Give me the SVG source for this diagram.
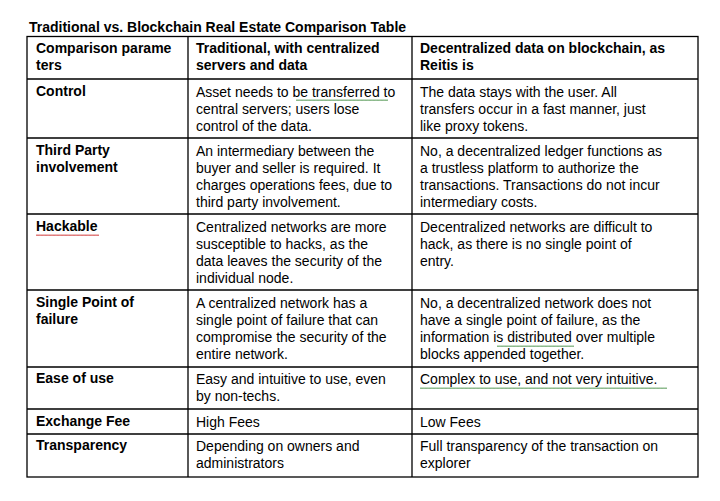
<svg xmlns="http://www.w3.org/2000/svg" width="720" height="501" viewBox="0 0 720 501">
<style>
text{font-family:"Liberation Sans",Arial,sans-serif;font-size:14px;fill:#000}
.b{font-weight:bold}
.g{fill:none;stroke:#000;stroke-width:1.3}
.w{fill:url(#wv)}
.wr{fill:url(#wr)}
</style>
<defs>
<pattern id="wv" width="4" height="3" patternUnits="userSpaceOnUse"><path d="M0,2 L1,0.5 L2,2 L3,0.5 L4,2" fill="none" stroke="#5a9a5a" stroke-width="0.8"/></pattern>
<pattern id="wr" width="4" height="3" patternUnits="userSpaceOnUse"><path d="M0,2 L1,0.5 L2,2 L3,0.5 L4,2" fill="none" stroke="#d04040" stroke-width="0.8"/></pattern>
</defs>
<rect width="720" height="501" fill="#fff"/>
<text class="b" x="29" y="32">Traditional vs. Blockchain Real Estate Comparison Table</text>
<g id="grid" class="g">
<rect x="27" y="36.5" width="671" height="440.5"/>
<path d="M188,36.5V477M412,36.5V477M27,79H698M27,138H698M27,214H698M27,290H698M27,367H698M27,409H698M27,434H698"/>
</g>
<g id="header" class="b">
<text class="b" x="36" y="53">Comparison parame</text><text class="b" x="36" y="70">ters</text>
<text class="b" x="196" y="53">Traditional, with centralized</text><text class="b" x="196" y="70">servers and data</text>
<text class="b" x="420" y="53">Decentralized data on blockchain, as</text><text class="b" x="420" y="70">Reitis is</text>
</g>
<g id="control">
<text class="b" x="36" y="96">Control</text>
<text x="196" y="97">Asset needs to be transferred to</text><text x="196" y="114">central servers; users lose</text><text x="196" y="131">control of the data.</text>
<text x="420" y="97">The data stays with the user. All</text><text x="420" y="114">transfers occur in a fast manner, just</text><text x="420" y="131">like proxy tokens.</text>
<rect class="w" x="296" y="99" width="92" height="3"/>
</g>
<g id="thirdparty">
<text class="b" x="36" y="155">Third Party</text><text class="b" x="36" y="172">involvement</text>
<text x="196" y="156">An intermediary between the</text><text x="196" y="173">buyer and seller is required. It</text><text x="196" y="190">charges operations  fees, due to</text><text x="196" y="207">third party involvement.</text>
<text x="420" y="156">No, a decentralized ledger functions as</text><text x="420" y="173">a trustless platform to authorize the</text><text x="420" y="190">transactions. Transactions do not incur</text><text x="420" y="207">intermediary costs.</text>
</g>
<g id="hackable">
<text class="b" x="36" y="231">Hackable</text>
<rect class="wr" x="36" y="233" width="63" height="3"/>
<text x="196" y="232">Centralized networks are more</text><text x="196" y="249">susceptible to hacks, as the</text><text x="196" y="266">data leaves the security of the</text><text x="196" y="283">individual node.</text>
<text x="420" y="232">Decentralized networks are difficult to</text><text x="420" y="249">hack, as there is no single point of</text><text x="420" y="266">entry.</text>
</g>
<g id="single">
<text class="b" x="36" y="307">Single Point of</text><text class="b" x="36" y="324">failure</text>
<text x="196" y="308">A centralized network has a</text><text x="196" y="325">single point of failure that can</text><text x="196" y="342">compromise the security of the</text><text x="196" y="359">entire network.</text>
<text x="420" y="308">No, a decentralized network does not</text><text x="420" y="325">have a single point of failure, as the</text><text x="420" y="342">information is distributed  over multiple</text><text x="420" y="359">blocks appended together.</text>
<rect class="w" x="497" y="344" width="77" height="3"/>
</g>
<g id="ease">
<text class="b" x="36" y="383">Ease of use</text>
<text x="196" y="384">Easy and intuitive to use, even</text><text x="196" y="401">by non-techs.</text>
<text x="420" y="384">Complex to use, and not very intuitive.</text>
<rect class="w" x="420" y="386" width="247" height="3"/>
</g>
<g id="exchange">
<text class="b" x="36" y="426">Exchange Fee</text>
<text x="196" y="427">High Fees</text>
<text x="420" y="427">Low Fees</text>
</g>
<g id="transparency">
<text class="b" x="36" y="450">Transparency</text>
<text x="196" y="451">Depending on owners and</text><text x="196" y="468">administrators</text>
<text x="420" y="451">Full transparency of the transaction on</text><text x="420" y="468">explorer</text>
</g>
</svg>
